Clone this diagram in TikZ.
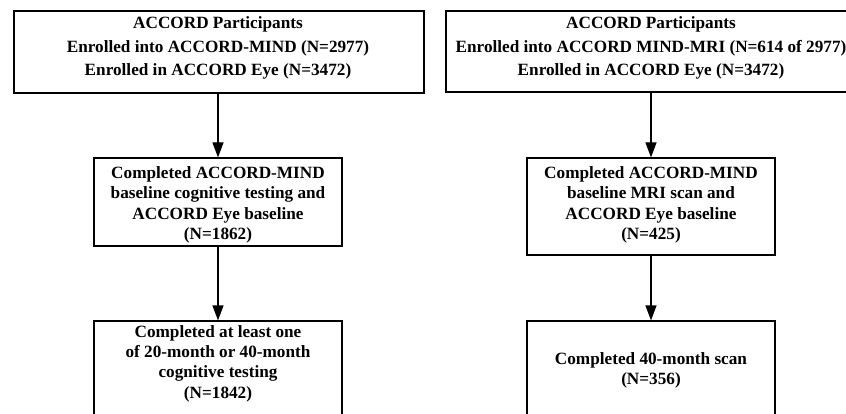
\documentclass[tikz,border=0pt]{standalone}
\usepackage{fontspec}
\setmainfont{Liberation Serif}
\usetikzlibrary{arrows.meta}
\begin{document}
\begin{tikzpicture}[x=1pt,y=-1pt,
  box/.style={draw, line width=1.2pt, rectangle, inner sep=0pt},
  txt/.style={align=center, inner sep=0pt, anchor=north, font=\bfseries\fontsize{17.2}{20.3}\selectfont},
  toptxt/.style={txt, font=\bfseries\fontsize{17.2}{23.6}\selectfont},
  arr/.style={-{Triangle[length=15pt,width=11pt]}, line width=1.2pt}]
\useasboundingbox (0,0) rectangle (846,414);
\clip (0,0) rectangle (846,414);
% boxes
\node[box, minimum width=410pt, minimum height=82pt] (a1) at (219,52) {};
\node[box, minimum width=410pt, minimum height=81pt] (a2) at (651,51.5) {};
\node[box, minimum width=248pt, minimum height=88pt] (b1) at (218,202) {};
\node[box, minimum width=248pt, minimum height=97pt] (b2) at (651,206.5) {};
\node[box, minimum width=248pt, minimum height=119pt] (c1) at (218,380.5) {};
\node[box, minimum width=248pt, minimum height=119pt] (c2) at (651,380.5) {};
% texts
\node[toptxt] (ta1) at (218,16.6) {ACCORD Participants\\Enrolled into ACCORD-MIND (N=2977)\\Enrolled in ACCORD Eye (N=3472)};
\node[toptxt] (ta2) at (651,16.6) {ACCORD Participants\\Enrolled into ACCORD MIND-MRI (N=614 of 2977)\\Enrolled in ACCORD Eye (N=3472)};
\node[txt] (tb1) at (218,166.5) {Completed ACCORD-MIND\\baseline cognitive testing and\\ACCORD Eye baseline\\(N=1862)};
\node[txt] (tb2) at (651,166.5) {Completed ACCORD-MIND\\baseline MRI scan and\\ACCORD Eye baseline\\(N=425)};
\node[txt] (tc1) at (218,325) {Completed at least one\\of 20-month or 40-month\\cognitive testing\\(N=1842)};
\node[txt] (tc2) at (651,352) {Completed 40-month scan\\(N=356)};
% arrows
\draw[arr] (a1.south -| b1.center) -- (b1);
\draw[arr] (b1) -- (c1);
\draw[arr] (a2) -- (b2);
\draw[arr] (b2) -- (c2);
\end{tikzpicture}
\end{document}
